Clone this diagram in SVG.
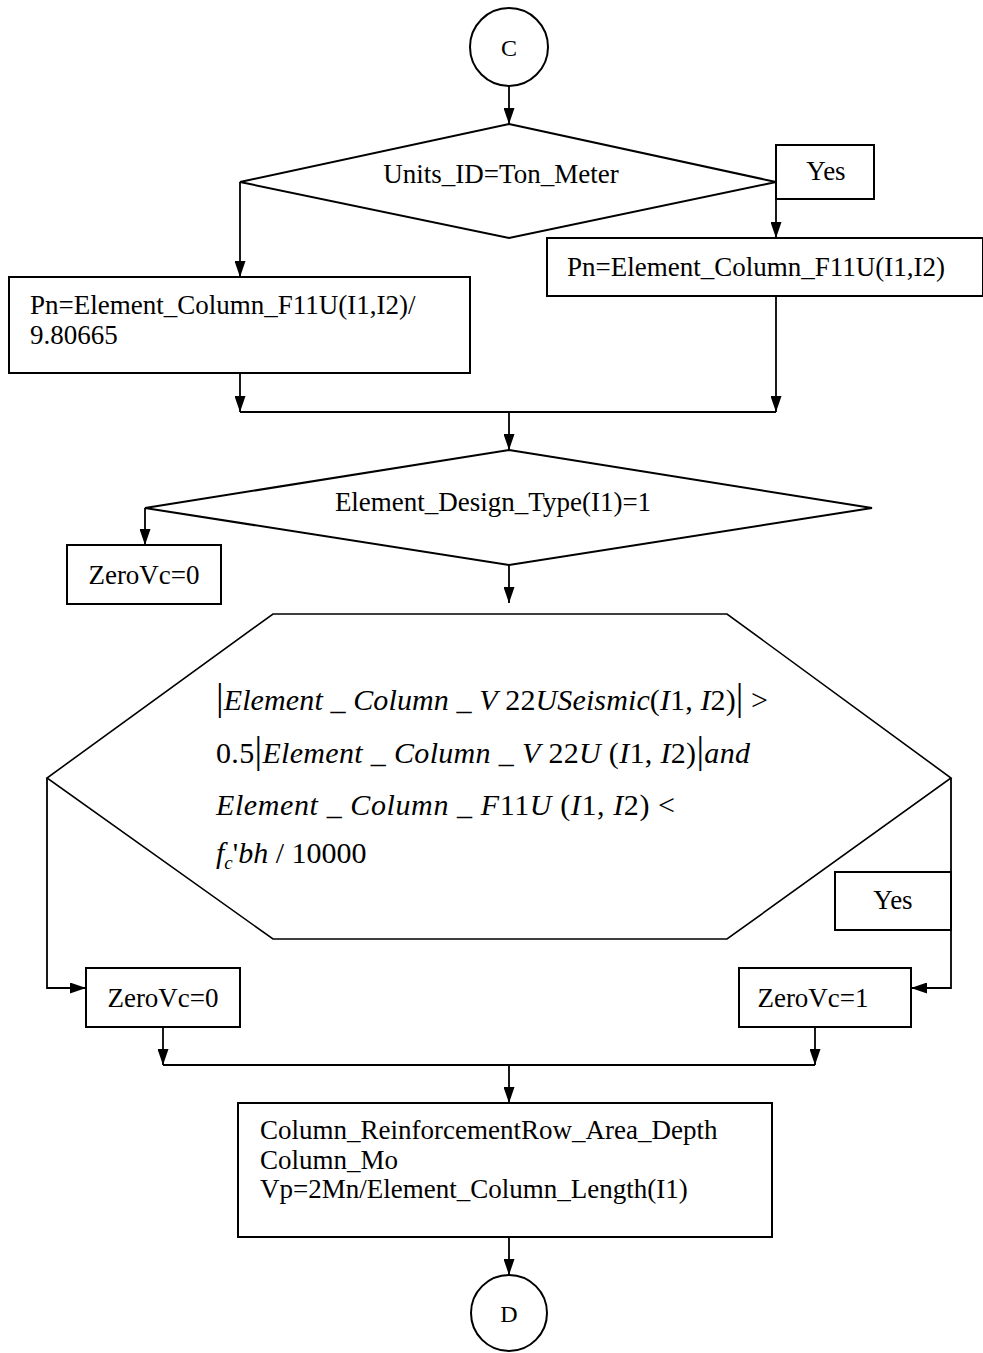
<svg xmlns="http://www.w3.org/2000/svg" width="983" height="1353" viewBox="0 0 983 1353">
<style>
.s{fill:#fff;stroke:#000;stroke-width:2}
.h{fill:#fff;stroke:#000;stroke-width:1.6}
.c{fill:none;stroke:#000;stroke-width:1.8}
.t{font-family:"Liberation Serif","Times New Roman",serif;font-size:27px;fill:#000}
.m{font-family:"Liberation Serif","Times New Roman",serif;font-size:30px;fill:#000}
.i{font-style:italic}
.b{font-size:38px}
</style>
<defs>
<marker id="ah" viewBox="0 0 16 11" refX="16" refY="5.5" markerWidth="16" markerHeight="11" markerUnits="userSpaceOnUse" orient="auto">
<path d="M0,0 L16,5.5 L0,11 z" fill="#000"/>
</marker>
</defs>
<rect width="983" height="1353" fill="#fff"/>

<g id="connectors" class="c" marker-end="url(#ah)">
<line x1="509" y1="86" x2="509" y2="124"/>
<polyline points="240,182 240,277"/>
<polyline points="776,182 776,238"/>
<line x1="240" y1="373" x2="240" y2="412"/>
<line x1="776" y1="296" x2="776" y2="412"/>
<line x1="240" y1="412" x2="776" y2="412" marker-end="none"/>
<line x1="509" y1="412" x2="509" y2="450"/>
<polyline points="145,508 145,545"/>
<line x1="509" y1="565" x2="509" y2="603"/>
<polyline points="47,778 47,988 86,988"/>
<polyline points="951,778 951,988 911,988"/>
<line x1="163" y1="1027" x2="163" y2="1065"/>
<line x1="815" y1="1027" x2="815" y2="1065"/>
<line x1="163" y1="1065" x2="815" y2="1065" marker-end="none"/>
<line x1="509" y1="1065" x2="509" y2="1103"/>
<line x1="509" y1="1237" x2="509" y2="1275"/>
</g>

<g id="start-c">
<circle class="s" cx="509" cy="47" r="39"/>
<text class="t" x="509" y="56" text-anchor="middle" style="font-size:24px">C</text>
</g>

<g id="decision-units">
<polygon class="s" points="509,124 776,182 509,238 240,182"/>
<text class="t" x="501" y="183" text-anchor="middle">Units_ID=Ton_Meter</text>
</g>

<g id="label-yes-1">
<rect class="s" x="776" y="145" width="98" height="54"/>
<text class="t" x="826" y="180" text-anchor="middle">Yes</text>
</g>

<g id="pn-ton">
<rect class="s" x="547" y="238" width="436" height="58"/>
<text class="t" x="567" y="276">Pn=Element_Column_F11U(I1,I2)</text>
</g>

<g id="pn-other">
<rect class="s" x="9" y="277" width="461" height="96"/>
<text class="t" x="30" y="314">Pn=Element_Column_F11U(I1,I2)/</text>
<text class="t" x="30" y="344">9.80665</text>
</g>

<g id="decision-design">
<polygon class="s" points="509,450 872,508 509,565 145,508"/>
<text class="t" x="493" y="511" text-anchor="middle">Element_Design_Type(I1)=1</text>
</g>

<g id="zerovc-0-top">
<rect class="s" x="67" y="545" width="154" height="59"/>
<text class="t" x="144" y="584" text-anchor="middle">ZeroVc=0</text>
</g>

<g id="decision-seismic">
<polygon class="h" points="273,614 727,614 951,778 727,939 273,939 47,778"/>
<text class="m" x="216" y="710" textLength="552" lengthAdjust="spacing"><tspan class="b">|</tspan><tspan class="i">Element _ Column _ V</tspan> 22<tspan class="i">USeismic</tspan>(<tspan class="i">I</tspan>1, <tspan class="i">I</tspan>2)<tspan class="b">|</tspan> &gt;</text>
<text class="m" x="216" y="763" textLength="534" lengthAdjust="spacing">0.5<tspan class="b">|</tspan><tspan class="i">Element _ Column _ V</tspan> 22<tspan class="i">U</tspan> (<tspan class="i">I</tspan>1, <tspan class="i">I</tspan>2)<tspan class="b">|</tspan><tspan class="i">and</tspan></text>
<text class="m" x="216" y="815" textLength="459" lengthAdjust="spacing"><tspan class="i">Element _ Column _ F</tspan>11<tspan class="i">U</tspan> (<tspan class="i">I</tspan>1, <tspan class="i">I</tspan>2) &lt;</text>
<text class="m" x="216" y="863"><tspan class="i">f</tspan><tspan class="i" dy="6" style="font-size:19px">c</tspan><tspan dy="-6">'</tspan><tspan class="i">bh</tspan> / 10000</text>
</g>

<g id="label-yes-2">
<rect class="s" x="835" y="872" width="116" height="58"/>
<text class="t" x="893" y="909" text-anchor="middle">Yes</text>
</g>

<g id="zerovc-0">
<rect class="s" x="86" y="968" width="154" height="59"/>
<text class="t" x="163" y="1007" text-anchor="middle">ZeroVc=0</text>
</g>

<g id="zerovc-1">
<rect class="s" x="739" y="968" width="172" height="59"/>
<text class="t" x="813" y="1007" text-anchor="middle">ZeroVc=1</text>
</g>

<g id="column-calc">
<rect class="s" x="238" y="1103" width="534" height="134"/>
<text class="t" x="260" y="1139">Column_ReinforcementRow_Area_Depth</text>
<text class="t" x="260" y="1169">Column_Mo</text>
<text class="t" x="260" y="1198">Vp=2Mn/Element_Column_Length(I1)</text>
</g>

<g id="end-d">
<circle class="s" cx="509" cy="1313" r="38"/>
<text class="t" x="509" y="1322" text-anchor="middle" style="font-size:24px">D</text>
</g>
</svg>
